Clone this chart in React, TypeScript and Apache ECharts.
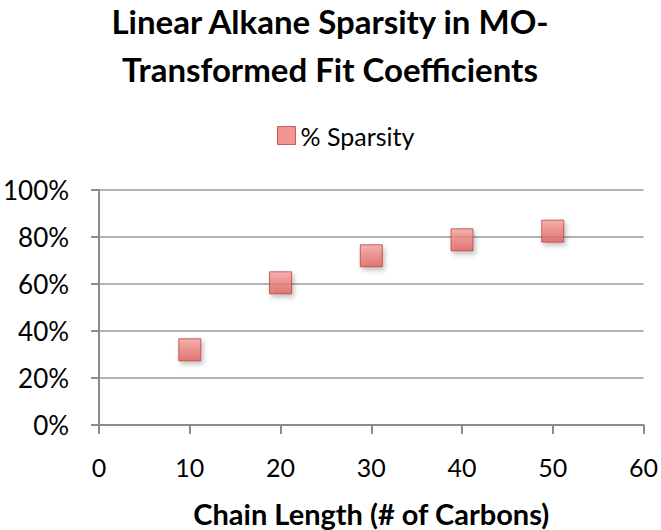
import React, { useEffect, useRef } from "react";
import * as echarts from "echarts";

const chainLengths = [10, 20, 30, 40, 50];
const sparsity = [32, 60.5, 72, 78.8, 82.5];
const seriesName = "% Sparsity";
const titleLines = ["Linear Alkane Sparsity in MO-", "Transformed Fit Coefficients"];
const xAxisName = "Chain Length (# of Carbons)";

const FONT = "Lato, 'Open Sans', sans-serif";

export default function App() {
  const ref = useRef<HTMLDivElement>(null);
  useEffect(() => {
    if (!ref.current) return;
    const chart = echarts.init(ref.current, undefined, { renderer: "svg" });
    const fill = new echarts.graphic.LinearGradient(0, 0, 0, 1, [
      { offset: 0, color: "#f7a19e" },
      { offset: 1, color: "#e0605c" },
    ]);
    chart.setOption({
      animation: false,
      backgroundColor: "#ffffff",
      graphic: titleLines.map((t, i) => ({
        type: "text",
        x: 330,
        y: 21 + i * 48,
        style: {
          text: t,
          textAlign: "center",
          textVerticalAlign: "middle",
          fontFamily: FONT,
          fontWeight: "bold",
          fontSize: 33,
          fill: "#000",
        },
      })),
      legend: {
        top: 118,
        left: 272,
        icon: "rect",
        itemWidth: 18,
        itemHeight: 18,
        itemGap: 6,
        data: [seriesName],
        textStyle: { fontFamily: FONT, fontSize: 25, color: "#000" },
        itemStyle: { color: "#ec7a77", borderColor: "#b5423f", borderWidth: 1 },
      },
      grid: { left: 98, right: 15, top: 190, bottom: 105, containLabel: false },
      xAxis: {
        type: "value",
        min: 0,
        max: 60,
        interval: 10,
        name: xAxisName,
        nameLocation: "middle",
        nameGap: 74,
        nameTextStyle: { fontFamily: FONT, fontWeight: "bold", fontSize: 29, color: "#000" },
        axisLine: { show: true, lineStyle: { color: "#8c8c8c", width: 2 } },
        axisTick: { show: true, length: 9, lineStyle: { color: "#8c8c8c", width: 2 } },
        splitLine: { show: false },
        axisLabel: { fontFamily: FONT, fontSize: 25, color: "#000", margin: 29 },
      },
      yAxis: {
        type: "value",
        min: 0,
        max: 100,
        interval: 20,
        axisLine: { show: true, lineStyle: { color: "#8c8c8c", width: 2 } },
        axisTick: { show: true, length: 8, lineStyle: { color: "#8c8c8c", width: 2 } },
        splitLine: { show: true, lineStyle: { color: "#9a9a9a", width: 1.5 } },
        axisLabel: {
          fontFamily: FONT,
          fontSize: 26,
          color: "#000",
          margin: 30,
          formatter: (v: number) => `${v}%`,
        },
      },
      series: [
        {
          name: seriesName,
          type: "scatter",
          symbol: "rect",
          symbolSize: 22,
          data: chainLengths.map((x, i) => [x, sparsity[i]]),
          itemStyle: {
            color: fill,
            borderColor: "#b5423f",
            borderWidth: 1,
            shadowBlur: 5,
            shadowOffsetX: 2,
            shadowOffsetY: 3,
            shadowColor: "rgba(0,0,0,0.3)",
          },
        },
      ],
    });
    return () => chart.dispose();
  }, []);
  return <div ref={ref} style={{ width: 661, height: 530, position: "absolute", left: 0, top: 0 }} />;
}
